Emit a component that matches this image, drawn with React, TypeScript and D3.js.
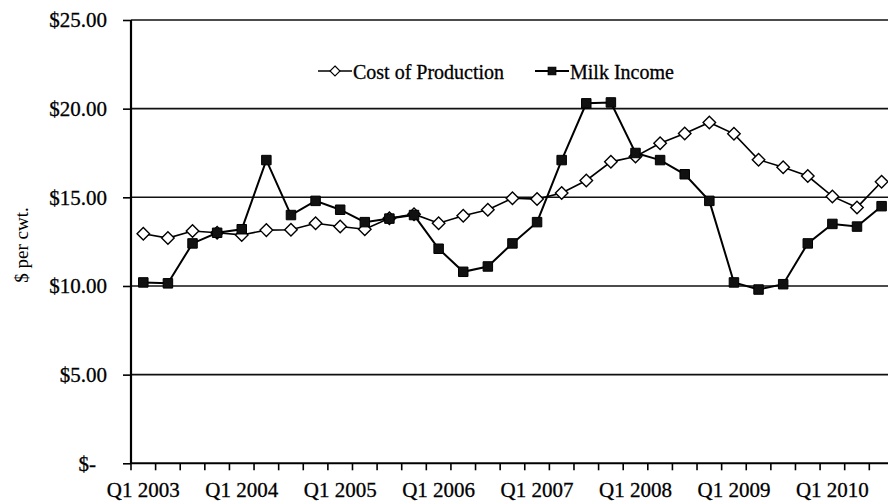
import { useEffect, useRef } from "react";
import * as d3 from "d3";

const categories = [
  "Q1 2003", "Q2 2003", "Q3 2003", "Q4 2003",
  "Q1 2004", "Q2 2004", "Q3 2004", "Q4 2004",
  "Q1 2005", "Q2 2005", "Q3 2005", "Q4 2005",
  "Q1 2006", "Q2 2006", "Q3 2006", "Q4 2006",
  "Q1 2007", "Q2 2007", "Q3 2007", "Q4 2007",
  "Q1 2008", "Q2 2008", "Q3 2008", "Q4 2008",
  "Q1 2009", "Q2 2009", "Q3 2009", "Q4 2009",
  "Q1 2010", "Q2 2010", "Q3 2010",
];

const costOfProduction = [
  12.95, 12.7, 13.1, 13.0, 12.88, 13.15, 13.17, 13.54, 13.35, 13.2, 13.82,
  14.05, 13.54, 13.96, 14.3, 14.95, 14.9, 15.24, 15.95, 17.0, 17.3, 18.05,
  18.6, 19.22, 18.58, 17.12, 16.7, 16.2, 15.05, 14.43, 15.88,
];

const milkIncome = [
  10.2, 10.15, 12.4, 13.0, 13.2, 17.1, 14.0, 14.8, 14.3, 13.6, 13.8, 14.0,
  12.1, 10.8, 11.1, 12.4, 13.6, 17.1, 20.3, 20.35, 17.5, 17.1, 16.3, 14.8,
  10.2, 9.8, 10.1, 12.4, 13.5, 13.35, 14.5,
];

const yTicks = [0, 5, 10, 15, 20, 25];
const xTickLabels = ["Q1 2003", "Q1 2004", "Q1 2005", "Q1 2006", "Q1 2007", "Q1 2008", "Q1 2009", "Q1 2010"];

const FONT = "'Liberation Serif', 'Times New Roman', serif";

const Chart = () => {
  const svgRef = useRef<SVGSVGElement | null>(null);

  useEffect(() => {
    if (!svgRef.current) return;
    const width = 888;
    const height = 504;
    const left = 131;
    const top = 20;
    const bottom = 463.3;
    const step = 24.61;

    const svg = d3.select(svgRef.current).attr("width", width).attr("height", height);
    svg.selectAll("*").remove();

    const x = d3
      .scaleBand<string>()
      .domain(categories)
      .range([left, left + step * categories.length])
      .padding(0);
    const y = d3.scaleLinear().domain([0, 25]).range([bottom, top]);
    const cx = (i: number) => (x(categories[i]) as number) + x.bandwidth() / 2;

    // gridlines
    svg
      .append("g")
      .selectAll("line")
      .data(yTicks.filter((d) => d > 0))
      .enter()
      .append("line")
      .attr("x1", left)
      .attr("x2", width)
      .attr("y1", (d) => y(d))
      .attr("y2", (d) => y(d))
      .attr("stroke", "#111")
      .attr("stroke-width", 1.6);

    // y axis
    const yAxis = svg
      .append("g")
      .attr("transform", `translate(${left},0)`)
      .call(
        d3
          .axisLeft(y)
          .tickValues(yTicks)
          .tickSize(8)
          .tickPadding(16)
          .tickFormat((d) => (+d === 0 ? "$-" : d3.format("$.2f")(+d)))
      );
    yAxis.select(".domain").attr("stroke", "#000").attr("stroke-width", 2.2).attr("d", `M0,${top}V${bottom}`);
    yAxis.selectAll(".tick line").attr("stroke", "#000").attr("stroke-width", 1.6);
    yAxis
      .selectAll(".tick text")
      .attr("font-family", FONT)
      .attr("font-size", 21)
      .attr("fill", "#000")
      .attr("stroke", "#000")
      .attr("stroke-width", 0.3)
      .attr("dx", (d: any) => (+d === 0 ? -11 : 0));

    // x axis
    svg
      .append("line")
      .attr("x1", left)
      .attr("x2", width)
      .attr("y1", bottom)
      .attr("y2", bottom)
      .attr("stroke", "#000")
      .attr("stroke-width", 2);
    svg
      .append("g")
      .selectAll("line")
      .data(d3.range(categories.length + 1))
      .enter()
      .append("line")
      .attr("x1", (i) => left + x.step() * i)
      .attr("x2", (i) => left + x.step() * i)
      .attr("y1", bottom)
      .attr("y2", bottom + 7)
      .attr("stroke", "#000")
      .attr("stroke-width", 1.6);
    svg
      .append("g")
      .selectAll("text")
      .data(xTickLabels)
      .enter()
      .append("text")
      .attr("x", (d) => (x(d) as number) + x.bandwidth() / 2)
      .attr("y", 497)
      .attr("text-anchor", "middle")
      .attr("font-family", FONT)
      .attr("font-size", 21)
      .attr("stroke", "#000")
      .attr("stroke-width", 0.3)
      .text((d) => d);

    // y title
    svg
      .append("text")
      .attr("transform", `translate(28,245) rotate(-90)`)
      .attr("text-anchor", "middle")
      .attr("font-family", FONT)
      .attr("font-size", 19)
      .text("$ per cwt.");

    const line = d3
      .line<number>()
      .x((_, i) => cx(i))
      .y((d) => y(d));

    const diamond = d3.symbol().type(d3.symbolDiamond2).size(100);
    const square = d3.symbol().type(d3.symbolSquare).size(90);

    // cost of production
    svg
      .append("path")
      .datum(costOfProduction)
      .attr("d", line)
      .attr("fill", "none")
      .attr("stroke", "#000")
      .attr("stroke-width", 1.6);
    svg
      .append("g")
      .selectAll("path")
      .data(costOfProduction)
      .enter()
      .append("path")
      .attr("d", diamond as any)
      .attr("transform", (d, i) => `translate(${cx(i)},${y(d)})`)
      .attr("fill", "#fff")
      .attr("stroke", "#000")
      .attr("stroke-width", 1.4);

    // milk income
    svg
      .append("path")
      .datum(milkIncome)
      .attr("d", line)
      .attr("fill", "none")
      .attr("stroke", "#000")
      .attr("stroke-width", 2);
    svg
      .append("g")
      .selectAll("path")
      .data(milkIncome)
      .enter()
      .append("path")
      .attr("d", square as any)
      .attr("transform", (d, i) => `translate(${cx(i)},${y(d)})`)
      .attr("fill", "#111")
      .attr("stroke", "#000")
      .attr("stroke-width", 1);

    // legend
    const legend = svg.append("g").attr("font-family", FONT).attr("font-size", 20);
    const items = [
      { name: "Cost of Production", x0: 318, sym: diamond, fill: "#fff", sw: 1.4 },
      { name: "Milk Income", x0: 535, sym: square, fill: "#111", sw: 2 },
    ];
    items.forEach((it) => {
      const g = legend.append("g");
      g.append("line")
        .attr("x1", it.x0)
        .attr("x2", it.x0 + 34)
        .attr("y1", 71)
        .attr("y2", 71)
        .attr("stroke", "#000")
        .attr("stroke-width", it.sw);
      g.append("path")
        .attr("d", it.sym as any)
        .attr("transform", `translate(${it.x0 + 17},71) scale(0.8)`)
        .attr("fill", it.fill)
        .attr("stroke", "#000")
        .attr("stroke-width", 1.4);
      g.append("text")
        .attr("x", it.x0 + 35)
        .attr("y", 79)
        .attr("stroke", "#000")
        .attr("stroke-width", 0.3)
        .text(it.name);
    });
  }, []);

  return <svg ref={svgRef} style={{ position: "absolute", left: 0, top: 0, background: "#fff" }}></svg>;
};

export default function App() {
  return <Chart />;
}
